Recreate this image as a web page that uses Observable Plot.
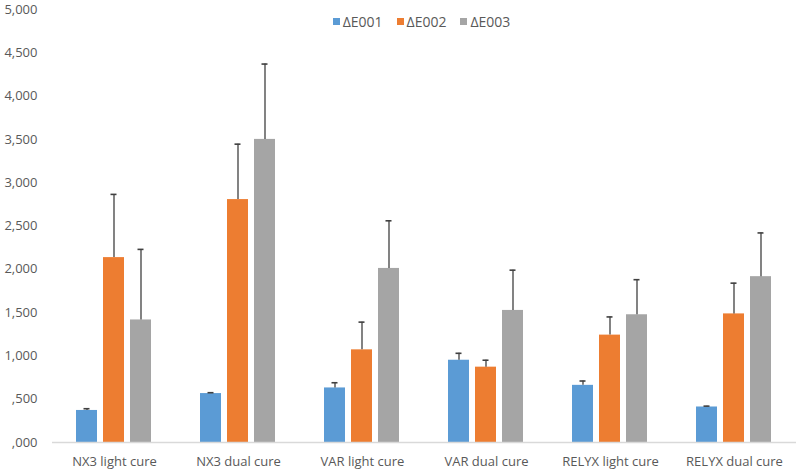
<!DOCTYPE html>
<html>
<head>
<meta charset="utf-8">
<script src="https://cdn.jsdelivr.net/npm/d3@7"></script>
<script src="https://cdn.jsdelivr.net/npm/@observablehq/plot@0.6"></script>
<style>
  html, body { margin: 0; padding: 0; background: #fff; }
  #wrap { position: relative; width: 797px; height: 470px; font-family: "Open Sans", sans-serif; }
  #legend { position: absolute; left: 0; top: 12px; width: 797px; display: flex; justify-content: center; gap: 14px; font-size: 14px; color: #595959; padding-left: 46px; box-sizing: border-box; }
  #legend span.item { display: inline-flex; align-items: center; gap: 3px; }
  #legend span.sw { display: inline-block; width: 7px; height: 7px; }
</style>
</head>
<body>
<div id="wrap"><div id="legend"></div></div>
<script>
const groups = ["NX3 light cure", "NX3 dual cure", "VAR light cure", "VAR dual cure", "RELYX light cure", "RELYX dual cure"];
const series = ["ΔE001", "ΔE002", "ΔE003"];
const colors = ["#5B9BD5", "#ED7D31", "#A5A5A5"];
const e001 = [0.37, 0.565, 0.63, 0.95, 0.66, 0.41];
const e001Err = [0.02, 0.01, 0.06, 0.08, 0.05, 0.01];
const e002 = [2.135, 2.805, 1.07, 0.87, 1.24, 1.485];
const e002Err = [0.73, 0.64, 0.32, 0.08, 0.21, 0.355];
const e003 = [1.415, 3.50, 2.01, 1.525, 1.475, 1.915];
const e003Err = [0.815, 0.87, 0.55, 0.465, 0.405, 0.505];
const yTicks = [0, 0.5, 1, 1.5, 2, 2.5, 3, 3.5, 4, 4.5, 5];
const yTickLabels = [",000", ",500", "1,000", "1,500", "2,000", "2,500", "3,000", "3,500", "4,000", "4,500", "5,000"];

const vals = [e001, e002, e003];
const errs = [e001Err, e002Err, e003Err];
const data = [];
groups.forEach((g, i) => series.forEach((s, j) => {
  data.push({group: g, series: s, value: vals[j][i], top: vals[j][i] + errs[j][i]});
}));

const chart = Plot.plot({
  width: 797,
  height: 470,
  marginLeft: 50,
  marginRight: 0,
  marginTop: 9,
  marginBottom: 28,
  style: {fontFamily: "'Open Sans', sans-serif", fontSize: "13px", color: "#595959", background: "transparent", overflow: "visible"},
  fx: {domain: groups, padding: 0, axis: "bottom", tickSize: 0, tickPadding: 14, label: null},
  x: {domain: series, paddingInner: 0.214, paddingOuter: 0.83, axis: null},
  y: {domain: [0, 5], ticks: yTicks, tickFormat: d => yTickLabels[yTicks.indexOf(d)], tickSize: 0, tickPadding: 15, label: null, line: false},
  color: {domain: series, range: colors},
  marks: [
    Plot.barY(data, {fx: "group", x: "series", y: "value", fill: "series"}),
    Plot.ruleX(data, {fx: "group", x: "series", y1: "value", y2: "top", stroke: "#404040", strokeWidth: 1.3}),
    Plot.tickY(data, {fx: "group", x: "series", y: "top", stroke: "#404040", strokeWidth: 1.6, insetLeft: 7.5, insetRight: 7.5}),
    Plot.ruleY([0], {stroke: "#D9D9D9", strokeWidth: 1.5})
  ]
});
document.getElementById("wrap").prepend(chart);

const legend = document.getElementById("legend");
series.forEach((s, j) => {
  const item = document.createElement("span");
  item.className = "item";
  const sw = document.createElement("span");
  sw.className = "sw";
  sw.style.background = colors[j];
  item.appendChild(sw);
  item.appendChild(document.createTextNode(s));
  legend.appendChild(item);
});
</script>
</body>
</html>
